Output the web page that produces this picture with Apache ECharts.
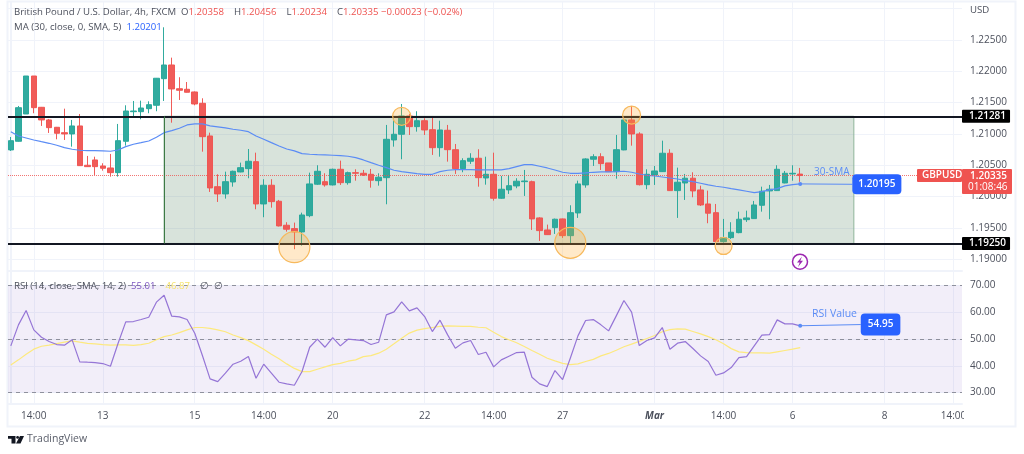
<!DOCTYPE html>
<html>
<head>
<meta charset="utf-8">
<style>html,body{margin:0;padding:0;background:#fff}#chart{width:1024px;height:454px}</style>
<script src="https://cdn.jsdelivr.net/npm/echarts@6/dist/echarts.min.js"></script>
</head>
<body>
<div id="chart"></div>
<script>
// GBP/USD 4h bars
var opens = [1.20744,1.20882,1.21318,1.21925,1.21425,1.21223,1.21106,1.21020,1.20999,1.21127,
  1.20499,1.20584,1.20488,1.20456,1.20381,1.20882,1.21355,1.21355,1.21403,1.21457,
  1.21882,1.22101,1.21722,1.21713,1.21670,1.21489,1.20967,1.20157,1.20041,1.20232,
  1.20392,1.20445,1.20557,1.19881,1.20180,1.19924,1.19541,1.19487,1.19434,1.19694,
  1.20196,1.20237,1.20185,1.20435,1.20221,1.20381,1.20371,1.20355,1.20253,1.20301,
  1.20903,1.20994,1.21286,1.21116,1.21211,1.21068,1.20780,1.21058,1.20748,1.20445,
  1.20563,1.20611,1.20296,1.20355,1.19972,1.20105,1.20169,1.20237,1.20237,1.19658,
  1.19466,1.19503,1.19642,1.19375,1.19737,1.20185,1.20595,1.20636,1.20536,1.20397,
  1.20744,1.21223,1.20999,1.20189,1.20344,1.20397,1.20691,1.20094,1.20216,1.20292,
  1.20105,1.19881,1.19742,1.19279,1.19343,1.19423,1.19630,1.19647,1.19860,1.20089,
  1.20094,1.20216,1.20360,1.20358];
var closes = [1.20892,1.21419,1.21925,1.21419,1.21223,1.21100,1.21010,1.20999,1.21127,1.20493,
  1.20477,1.20477,1.20451,1.20381,1.20892,1.21366,1.21366,1.21414,1.21467,1.21889,
  1.22101,1.21718,1.21697,1.21665,1.21478,1.20956,1.20137,1.20041,1.20237,1.20403,
  1.20461,1.20563,1.19881,1.20180,1.19918,1.19530,1.19477,1.19434,1.19705,1.20201,
  1.20403,1.20185,1.20435,1.20221,1.20381,1.20371,1.20344,1.20260,1.20308,1.20914,
  1.20994,1.21286,1.21116,1.21211,1.21063,1.20780,1.21063,1.20748,1.20445,1.20573,
  1.20611,1.20301,1.20355,1.19972,1.20116,1.20173,1.20244,1.20248,1.19642,1.19455,
  1.19391,1.19637,1.19375,1.19742,1.20201,1.20600,1.20636,1.20525,1.20397,1.20748,
  1.21223,1.20999,1.20189,1.20355,1.20408,1.20691,1.20094,1.20228,1.20292,1.20089,
  1.19865,1.19733,1.19279,1.19343,1.19429,1.19637,1.19658,1.19865,1.20084,1.20116,
  1.20435,1.20371,1.20371,1.20335];
var highs = [1.20951,1.21446,1.21925,1.21925,1.21430,1.21239,1.21111,1.21403,1.21223,1.21318,
  1.20648,1.20636,1.20531,1.20680,1.21159,1.21457,1.21526,1.21531,1.21521,1.21893,
  1.22703,1.22218,1.21905,1.21829,1.21678,1.21569,1.21020,1.20355,1.20397,1.20413,
  1.20541,1.20759,1.20700,1.20276,1.20276,1.19945,1.19589,1.19583,1.19742,1.20381,
  1.20499,1.20371,1.20445,1.20573,1.20397,1.20435,1.20424,1.20440,1.20371,1.21143,
  1.21250,1.21478,1.21318,1.21362,1.21250,1.21286,1.21211,1.21143,1.20839,1.20611,
  1.20691,1.20755,1.20636,1.20700,1.20328,1.20344,1.20292,1.20424,1.20253,1.19669,
  1.19551,1.19647,1.19647,1.19860,1.20253,1.20611,1.20675,1.20691,1.20536,1.20983,
  1.21286,1.21446,1.21026,1.20435,1.20488,1.20892,1.20755,1.20461,1.20360,1.20387,
  1.20173,1.20094,1.19881,1.19642,1.19589,1.19758,1.19774,1.19929,1.20157,1.20185,
  1.20499,1.20408,1.20499,1.20456];
var lows = [1.20728,1.20876,1.21318,1.21330,1.21127,1.21015,1.20914,1.20903,1.20796,1.20488,
  1.20472,1.20344,1.20413,1.20317,1.20317,1.20812,1.21266,1.21234,1.21330,1.21362,
  1.21526,1.21179,1.21542,1.21662,1.21457,1.20716,1.20073,1.19913,1.19966,1.20157,
  1.20387,1.20292,1.19796,1.19669,1.19822,1.19522,1.19439,1.19158,1.19215,1.19669,
  1.20185,1.20157,1.20177,1.20185,1.20189,1.20253,1.20328,1.20141,1.20173,1.19876,
  1.20796,1.20595,1.20983,1.21036,1.20983,1.20664,1.20636,1.20557,1.20360,1.20387,
  1.20520,1.20157,1.20189,1.19934,1.19964,1.20041,1.20132,1.20009,1.19466,1.19290,
  1.19386,1.19402,1.19338,1.19242,1.19658,1.20141,1.20488,1.20424,1.20397,1.20285,
  1.20739,1.20812,1.20177,1.20116,1.20185,1.20392,1.20089,1.19658,1.19945,1.19988,
  1.19849,1.19573,1.19271,1.19263,1.19322,1.19413,1.19594,1.19642,1.19758,1.19637,
  1.20089,1.20211,1.20253,1.20234];
var maValues = [1.21036,1.20967,1.20935,1.20903,1.20876,1.20850,1.20819,1.20780,1.20755,1.20739,
  1.20732,1.20732,1.20728,1.20723,1.20743,1.20796,1.20835,1.20860,1.20887,1.20946,
  1.21020,1.21052,1.21090,1.21143,1.21159,1.21159,1.21127,1.21111,1.21095,1.21074,
  1.21058,1.21036,1.20967,1.20914,1.20860,1.20807,1.20759,1.20728,1.20684,1.20675,
  1.20668,1.20664,1.20659,1.20652,1.20643,1.20621,1.20584,1.20541,1.20499,1.20461,
  1.20419,1.20397,1.20381,1.20365,1.20355,1.20355,1.20397,1.20419,1.20429,1.20429,
  1.20429,1.20424,1.20424,1.20424,1.20424,1.20445,1.20477,1.20509,1.20509,1.20483,
  1.20456,1.20424,1.20387,1.20371,1.20371,1.20376,1.20387,1.20392,1.20392,1.20397,
  1.20403,1.20387,1.20360,1.20339,1.20328,1.20312,1.20296,1.20280,1.20253,1.20237,
  1.20212,1.20185,1.20164,1.20148,1.20125,1.20105,1.20084,1.20062,1.20078,1.20105,
  1.20125,1.20169,1.20189,1.20201];
var rsiValues = [47.43,55.29,60.65,53.42,50.67,49.05,47.93,47.68,49.68,41.45,
  41.32,41.20,40.82,39.83,48.43,56.41,56.53,57.28,58.15,63.77,
  66.38,58.53,58.28,57.28,52.17,43.82,35.09,34.09,37.21,40.57,
  41.70,43.44,35.34,40.57,37.21,33.84,33.22,32.72,37.83,46.93,
  49.93,46.93,50.55,47.43,49.93,49.68,49.43,47.93,48.80,59.03,
  60.15,63.89,60.52,61.65,58.40,52.79,57.03,51.55,46.56,48.55,
  49.43,44.19,45.06,39.58,42.19,43.57,44.94,45.06,35.71,33.22,
  32.22,38.20,34.84,42.82,51.17,56.91,57.28,55.29,53.04,58.65,
  64.39,60.02,47.56,49.43,50.42,54.29,46.18,48.43,49.05,46.43,
  43.69,41.57,36.46,37.33,39.33,43.07,43.44,47.43,51.42,51.67,
  57.16,55.66,55.66,54.91];
var rsiMaValues = [40.3,42.2,44.3,46.2,47.3,47.7,48.3,48.8,49.3,48.8,
  48.4,48.2,47.9,47.7,47.8,47.8,47.6,47.9,48.4,49.7,
  50.9,51.5,52.4,53.4,54.3,54.3,54.0,53.4,52.7,51.5,
  50.5,49.4,47.8,46.2,44.3,42.6,40.7,39.0,37.8,37.8,
  38.7,39.6,40.4,40.9,41.7,42.2,43.4,43.8,44.7,46.2,
  48.2,50.3,52.2,53.3,53.9,54.3,54.7,54.9,54.8,54.7,
  54.7,54.4,54.2,52.5,50.9,49.7,48.6,47.2,45.7,44.3,
  42.8,41.8,40.9,40.4,40.7,41.6,42.4,43.7,44.6,45.8,
  47.1,48.1,49.1,50.2,51.3,52.7,53.5,53.8,53.7,52.8,
  51.9,50.9,49.7,48.2,46.4,45.2,44.9,44.8,44.8,44.7,
  45.2,45.7,46.2,46.8];

var timeTicks = [3,12,24,33,42,54,63,72,84,93,102,114,123];
var timeLabels = ['14:00','13','15','14:00','20','22','14:00','27','Mar','14:00','6','8','14:00'];
var priceLabels = [1.19,1.195,1.2,1.205,1.21,1.215,1.22,1.225];
var priceGrid = [1.19,1.195,1.2,1.205,1.21,1.215,1.22,1.225,1.23];
var rsiLabels = [30,40,50,60,70];

var rangeTop = 1.21281, rangeBottom = 1.1925;
var rangeFrom = 20, rangeTo = 110;
var lastPrice = 1.20335, countdown = '01:08:46';
var maTag = 1.20195, rsiTag = 54.95;
// bar index, price, circle size
var circleBars = [37,51,73,81,93];
var circlePrices = [1.1919,1.21281,1.1926,1.2130,1.1921];
var circleSizes = [31,18,31,18,17];

var UP = '#26a69a', DOWN = '#ef5350', BLUE = '#2962ff', GRID = '#f0f3fa';
var TXT = '#4c505c', SOFTBLUE = '#5b8cf5';
var FONT = '"Open Sans", sans-serif';

var bars = opens.map(function (o, i) { return [i, o, closes[i], lows[i], highs[i]]; });
function pairs(arr) { return arr.map(function (v, i) { return [i, v]; }); }
function legendText(color) {
  return {color: color, fontFamily: FONT, fontSize: 9.6, fontWeight: 'normal'};
}

function xAxisOf(gridIndex, showLabels) {
  return {
    type: 'value', gridIndex: gridIndex, min: -0.365, max: 124.11,
    axisLine: {show: true, onZero: false, lineStyle: {color: GRID, width: 2}},
    axisTick: {show: false, customValues: timeTicks},
    splitLine: {show: true, lineStyle: {color: GRID, width: 1}},
    axisLabel: {
      show: showLabels, customValues: timeTicks, color: TXT, fontFamily: FONT, fontSize: 10, margin: 7,
      showMinLabel: true, showMaxLabel: true, hideOverlap: false,
      formatter: function (v) {
        var s = timeLabels[timeTicks.indexOf(Math.round(v))] || '';
        return s === 'Mar' ? '{m|Mar}' : s;
      },
      rich: {m: {fontWeight: 'bold', fontStyle: 'italic', color: TXT, fontFamily: FONT, fontSize: 10}}
    }
  };
}
function tagLabel(bg, text) {
  return {
    show: true, position: 'end', distance: 0, formatter: text, color: '#fff', backgroundColor: bg,
    fontFamily: FONT, fontSize: 10, fontWeight: 600, padding: [1, 4, 1, 7], borderRadius: 1, lineHeight: 11
  };
}

var option = {
  animation: false,
  backgroundColor: '#fff',
  title: [
    {left: 14, top: 3, padding: 0, text: '{n|British Pound / U.S. Dollar, 4h, FXCM} {n|O}{r|1.20358}  {n|H}{r|1.20456}  {n|L}{r|1.20234}  {n|C}{r|1.20335 \u22120.00023 (\u22120.02%)}',
      textStyle: {rich: {n: legendText(TXT), r: legendText(DOWN)}}},
    {left: 14, top: 18, padding: 0, text: '{n|MA (30, close, 0, SMA, 5)} {b|1.20201}',
      textStyle: {rich: {n: legendText(TXT), b: legendText(BLUE)}}},
    {left: 14, top: 277, padding: 0, text: '{n|RSI (14, close, SMA, 14, 2)} {p|55.01}  {y|46.87}  {n|\u2205  \u2205}',
      textStyle: {rich: {n: legendText(TXT), p: legendText('#7e57c2'), y: legendText('#f5e26b')}}},
    {left: 970, top: 5, padding: 0, text: 'USD', textStyle: legendText(TXT)}
  ],
  grid: [
    {left: 8, width: 954, top: 2, height: 269},
    {left: 8, width: 954, top: 272, height: 132}
  ],
  xAxis: [xAxisOf(0, false), xAxisOf(1, true)],
  yAxis: [
    {type: 'value', gridIndex: 0, position: 'right', min: 1.1881, max: 1.23107, scale: true,
      axisLine: {show: true, lineStyle: {color: GRID, width: 2}},
      axisTick: {show: false, customValues: priceGrid},
      splitLine: {show: true, lineStyle: {color: GRID, width: 1}},
      axisLabel: {customValues: priceLabels, color: TXT, fontFamily: FONT, fontSize: 10, margin: 8,
        formatter: function (v) { return v.toFixed(5); }}},
    {type: 'value', gridIndex: 1, position: 'right', min: 25.7, max: 75.05,
      axisLine: {show: true, lineStyle: {color: GRID, width: 2}},
      axisTick: {show: false, customValues: rsiLabels},
      splitLine: {show: true, lineStyle: {color: GRID, width: 1}},
      axisLabel: {customValues: rsiLabels, color: TXT, fontFamily: FONT, fontSize: 10, margin: 8,
        formatter: function (v) { return v.toFixed(2); }}}
  ],
  series: [
    {
      type: 'candlestick', xAxisIndex: 0, yAxisIndex: 0, data: bars, barWidth: 6, z: 3,
      itemStyle: {color: UP, color0: DOWN, borderColor: UP, borderColor0: DOWN, borderWidth: 1, opacity: 0.95},
      markArea: {
        silent: true, z: 1,
        itemStyle: {color: 'rgba(60,115,75,0.2)', borderColor: '#8fb59a', borderWidth: 1},
        data: [[{coord: [rangeFrom, rangeTop]}, {coord: [rangeTo, rangeBottom]}]]
      },
      markPoint: {
        silent: true, z: 6, symbol: 'circle', label: {show: false},
        itemStyle: {color: 'rgba(255,167,38,0.25)', borderColor: '#f7b95c', borderWidth: 1.2},
        data: circleBars.map(function (b, i) {
          return {coord: [b, circlePrices[i]], symbolSize: circleSizes[i]};
        })
      }
    },
    {
      type: 'line', xAxisIndex: 0, yAxisIndex: 0, data: pairs(maValues), z: 4, symbol: 'none', smooth: false,
      lineStyle: {color: SOFTBLUE, width: 1.2},
      markLine: {
        silent: true, z: 7, animation: false, precision: 5,
        symbol: ['circle', 'none'], symbolSize: 4,
        lineStyle: {color: SOFTBLUE, width: 1, type: 'solid'},
        label: {show: false},
        data: [[
          {coord: [103, 1.20201]},
          {coord: [109.8, maTag],
            label: {show: true, position: 'end', distance: 0, formatter: maTag.toFixed(5), color: '#fff', backgroundColor: BLUE,
              fontFamily: FONT, fontSize: 10, fontWeight: 600, padding: [5, 6, 5, 6], borderRadius: 4}}
        ]]
      }
    },
    {
      // black range lines, ending in their axis tags, plus the last price line
      type: 'line', xAxisIndex: 0, yAxisIndex: 0, data: [], z: 5,
      markLine: {
        silent: true, z: 5, animation: false, symbol: 'none', precision: 5,
        data: [
          {yAxis: rangeTop, lineStyle: {color: '#131722', width: 2, type: 'solid'}, label: tagLabel('#000', rangeTop.toFixed(5))},
          {yAxis: rangeBottom, lineStyle: {color: '#131722', width: 2, type: 'solid'}, label: tagLabel('#000', rangeBottom.toFixed(5))},
          {yAxis: lastPrice, lineStyle: {color: DOWN, width: 1, type: 'dotted', opacity: 0.8}, label: {show: false}},
          [{coord: [rangeFrom, rangeTop], lineStyle: {color: '#3d7a45', width: 1, type: 'solid'}, label: {show: false}},
           {coord: [rangeFrom, rangeBottom]}]
        ]
      }
    },
    {
      type: 'line', xAxisIndex: 1, yAxisIndex: 1, data: pairs(rsiMaValues), z: 3, symbol: 'none',
      lineStyle: {color: '#fde97e', width: 1.2},
      markArea: {
        silent: true, z: 1, itemStyle: {color: 'rgba(126,87,194,0.1)'},
        data: [[{yAxis: 70}, {yAxis: 30}]]
      },
      markLine: {
        silent: true, z: 2, animation: false, symbol: 'none', label: {show: false},
        lineStyle: {color: '#787b86', width: 1, type: [4, 4], opacity: 0.8},
        data: [{yAxis: 70}, {yAxis: 50}, {yAxis: 30}]
      }
    },
    {
      type: 'line', xAxisIndex: 1, yAxisIndex: 1, data: pairs(rsiValues), z: 4, symbol: 'none',
      lineStyle: {color: '#9575d6', width: 1.2},
      markLine: {
        silent: true, z: 7, animation: false, symbol: ['circle', 'none'], symbolSize: 4,
        lineStyle: {color: SOFTBLUE, width: 1, type: 'solid'}, label: {show: false},
        data: [[
          {coord: [103, rsiTag]},
          {coord: [110.9, 55.4],
            label: {show: true, position: 'end', distance: 0, formatter: rsiTag.toFixed(2), color: '#fff', backgroundColor: BLUE,
              fontFamily: FONT, fontSize: 10, fontWeight: 600, padding: [6, 7, 6, 7], borderRadius: 4}}
        ]]
      }
    }
  ],
  graphic: [
    {type: 'rect', z: 0, silent: true, shape: {x: 7.5, y: 1.5, width: 1008, height: 425},
      style: {fill: 'none', stroke: GRID, lineWidth: 2}},
    {type: 'rect', z: 90, silent: true, shape: {x: 964, y: 405, width: 50, height: 20}, style: {fill: '#fff'}},
    {type: 'text', z: 50, x: 814, y: 167, silent: true, style: {text: '30-SMA', fill: SOFTBLUE, font: '10px ' + FONT}},
    {type: 'text', z: 50, x: 812, y: 309, silent: true, style: {text: 'RSI Value', fill: SOFTBLUE, font: '10.5px ' + FONT}},
    // last price tags on the axis
    {type: 'rect', z: 50, silent: true, shape: {x: 917, y: 169, width: 45, height: 13, r: 1}, style: {fill: DOWN}},
    {type: 'text', z: 51, x: 922, y: 170.5, silent: true, style: {text: 'GBPUSD', fill: '#fff', font: '600 10px ' + FONT}},
    {type: 'rect', z: 50, silent: true, shape: {x: 962, y: 169, width: 50, height: 25, r: 1}, style: {fill: DOWN}},
    {type: 'text', z: 51, x: 970, y: 171, silent: true, style: {text: lastPrice.toFixed(5), fill: '#fff', font: '600 10px ' + FONT}},
    {type: 'text', z: 51, x: 968, y: 182.5, silent: true, style: {text: countdown, fill: '#fff', font: '10px ' + FONT}},
    // lightning mark
    {type: 'circle', z: 50, silent: true, shape: {cx: 800, cy: 261.7, r: 7.5}, style: {fill: '#fff', stroke: '#9c27b0', lineWidth: 1.5}},
    {type: 'polygon', z: 51, silent: true, shape: {points: [[802, 256.5], [797, 262.5], [799.7, 262.5], [798, 267], [803, 260.8], [800.3, 260.8]]}, style: {fill: '#9c27b0'}},
    // TradingView logo
    {type: 'polygon', z: 50, silent: true, shape: {points: [[8, 436], [15.5, 436], [15.5, 443.5], [11.5, 443.5], [11.5, 438.8], [8, 438.8]]}, style: {fill: '#131722'}},
    {type: 'circle', z: 50, silent: true, shape: {cx: 17.6, cy: 437.4, r: 1.4}, style: {fill: '#131722'}},
    {type: 'polygon', z: 50, silent: true, shape: {points: [[20, 436], [24, 436], [20.5, 443.5], [16, 443.5]]}, style: {fill: '#131722'}},
    {type: 'text', z: 50, x: 27, y: 434, silent: true, style: {text: 'TradingView', fill: '#5a5e6a', font: '10.5px ' + FONT}}
  ]
};

var chart = echarts.init(document.getElementById('chart'), null, {renderer: 'canvas'});
chart.setOption(option);
</script>
</body>
</html>
